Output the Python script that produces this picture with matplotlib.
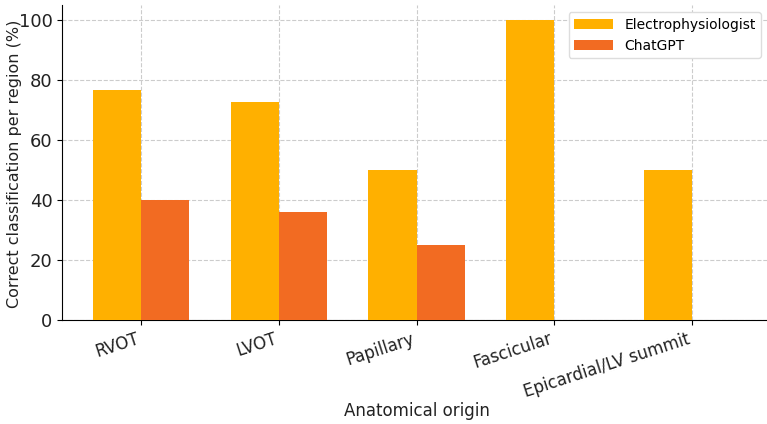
import numpy as np
import matplotlib.pyplot as plt

# data
regions = ["RVOT", "LVOT", "Papillary", "Fascicular", "Epicardial/LV summit"]
ep_vals = [76.7, 72.7, 50, 100, 50]
gpt_vals = [40, 36, 25, 0, 0]

x = np.arange(len(regions))
w = 0.35

fig = plt.figure(figsize=(7.67, 4.24), dpi=100)
ax = fig.add_axes([0.081, 0.245, 0.925, 0.743])

ax.bar(x - w/2, ep_vals, w, color="#FFB000", label="Electrophysiologist", zorder=3)
ax.bar(x + w/2, gpt_vals, w, color="#F26B22", label="ChatGPT", zorder=3)

ax.set_xticks(x)
ax.set_xticklabels(regions, rotation=18, ha="right", fontsize=12, color="#222222")
ax.tick_params(axis="y", labelsize=13, labelcolor="#222222")
ax.set_xlim(-0.575, 4.58)
ax.set_ylim(0, 105)
ax.set_yticks([0, 20, 40, 60, 80, 100])

ax.set_xlabel("Anatomical origin", fontsize=12, color="#222222")
ax.set_ylabel("Correct classification per region (%)", fontsize=11.5, color="#222222")
ax.yaxis.set_label_coords(-0.057, 0.495)
ax.xaxis.set_label_coords(0.5, -0.26)

ax.grid(True, linestyle="--", color="#cccccc", linewidth=0.8, zorder=0)
ax.spines["top"].set_visible(False)
ax.spines["right"].set_visible(False)

ax.legend(loc="upper right", fontsize=10, framealpha=1, edgecolor="#dddddd",
          handlelength=2.8, bbox_to_anchor=(0.995, 1.0))

fig.savefig("out.png", dpi=100)
